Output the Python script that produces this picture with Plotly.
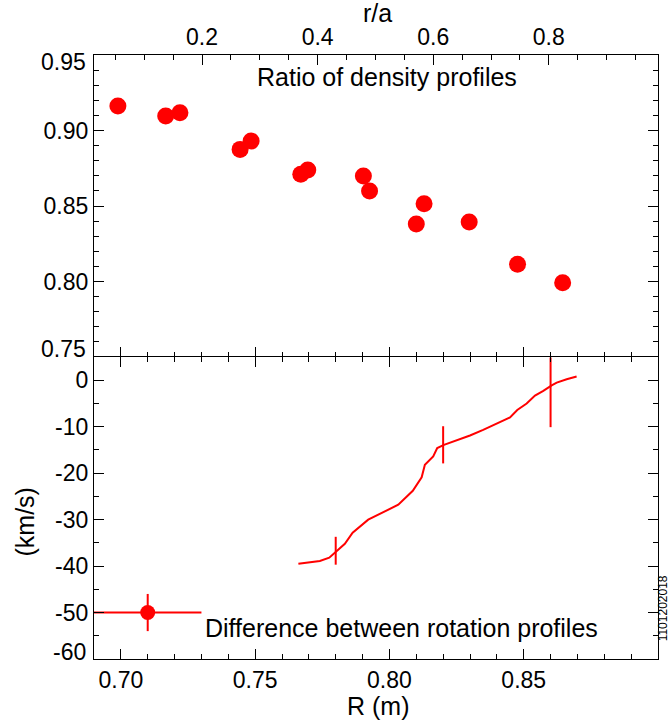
import plotly.graph_objects as go

# top panel: ratio of density profiles vs major radius
r_density = [0.6989, 0.7167, 0.7220, 0.7444, 0.7485, 0.7670, 0.7696,
             0.7903, 0.7926, 0.8100, 0.8129, 0.8297, 0.8477, 0.8645]
ratio = [0.9162, 0.9096, 0.9118, 0.8875, 0.8930, 0.8710, 0.8738,
         0.8699, 0.8599, 0.8381, 0.8515, 0.8394, 0.8114, 0.7992]

# bottom panel: difference of rotation profiles (km/s)
r_rot = [0.7661, 0.7741, 0.7776, 0.7804, 0.7834, 0.7863, 0.7921, 0.8033,
         0.8087, 0.8120, 0.8132, 0.8163, 0.8178, 0.8203, 0.8238, 0.8300,
         0.8349, 0.8412, 0.8449, 0.8476, 0.8511, 0.8542, 0.8573, 0.8604,
         0.8623, 0.8660, 0.8697]
dv_rot = [-39.5, -38.9, -38.2, -36.7, -35.2, -32.8, -30.0, -26.8,
          -23.8, -20.9, -18.2, -16.4, -14.6, -13.9, -13.2, -11.9,
          -10.7, -9.1, -8.0, -6.4, -5.0, -3.3, -2.3, -1.1,
          -0.5, 0.2, 0.8]

# sample error bars on the rotation curve
r_err = [0.78, 0.82, 0.86]
dv_err = [-36.7, -13.9, -1.1]
err_plus = [3, 4, 6]
err_minus = [3, 4, 9]

# legend symbol
leg_r, leg_v, leg_dr, leg_dv = [0.71], [-50], 0.02, 4

ra_ticks = [0.2, 0.4, 0.6, 0.8]
ratio_ticks = [0.75, 0.80, 0.85, 0.90, 0.95]
dv_ticks = [-60, -50, -40, -30, -20, -10, 0]

RED = "#ff0000"
FONT = "Liberation Sans, Arial, sans-serif"
TICK_SIZE = 23
TEXT_SIZE = 25

fig = go.Figure()

fig.add_trace(go.Scatter(x=r_density, y=ratio, mode="markers",
                         marker=dict(size=17, color=RED),
                         xaxis="x", yaxis="y", showlegend=False))

fig.add_trace(go.Scatter(x=r_rot, y=dv_rot, mode="lines",
                         line=dict(color=RED, width=2),
                         xaxis="x2", yaxis="y2", showlegend=False))

fig.add_trace(go.Scatter(x=r_err, y=dv_err, mode="markers",
                         marker=dict(size=1, color="rgba(0,0,0,0)"),
                         error_y=dict(type="data", symmetric=False, array=err_plus,
                                      arrayminus=err_minus, color=RED, thickness=2, width=0),
                         xaxis="x2", yaxis="y2", showlegend=False))

fig.add_trace(go.Scatter(x=leg_r, y=leg_v, mode="markers",
                         marker=dict(size=15, color=RED),
                         error_x=dict(type="constant", value=leg_dr, color=RED, thickness=2, width=0),
                         error_y=dict(type="constant", value=leg_dv, color=RED, thickness=2, width=0),
                         xaxis="x2", yaxis="y2", showlegend=False))

# empty trace so the r/a axis gets drawn
fig.add_trace(go.Scatter(x=[None], y=[None], xaxis="x3", yaxis="y", showlegend=False))

ax = dict(showgrid=False, zeroline=False, showline=True, linecolor="black", linewidth=1.2,
          ticks="inside", ticklen=10, tickwidth=1.2, tickcolor="black", automargin=False,
          tickfont=dict(size=TICK_SIZE, color="black", family=FONT))

# endpoint labels are drawn separately (shifted inside the panel, as in the original)
ratio_text = [f"{v:.2f}" if v not in (0.75, 0.95) else "" for v in ratio_ticks]
dv_text = [str(v) if v != -60 else "" for v in dv_ticks]

fig.update_layout(
    width=670, height=725,
    margin=dict(l=94, r=12, t=55, b=66),
    plot_bgcolor="white", paper_bgcolor="white",
    font=dict(family=FONT, color="black"),
    xaxis=dict(ax, domain=[0, 1], anchor="y", range=[0.69, 0.90], tick0=0.70, dtick=0.05,
               showticklabels=False, mirror=False, showline=False,
               minor=dict(ticks="inside", ticklen=5, dtick=0.01, tickcolor="black")),
    yaxis=dict(ax, domain=[0.5, 1], anchor="x", range=[0.75, 0.95],
               tickvals=ratio_ticks, ticktext=ratio_text, mirror="ticks",
               minor=dict(ticks="inside", ticklen=5, dtick=0.01, tickcolor="black")),
    xaxis2=dict(ax, domain=[0, 1], anchor="y2", range=[0.69, 0.90], tick0=0.70, dtick=0.05,
                tickformat=".2f", mirror="ticks",
                minor=dict(ticks="inside", ticklen=5, dtick=0.01, tickcolor="black")),
    yaxis2=dict(ax, domain=[0, 0.5], anchor="x2", range=[-60, 5],
                tickvals=dv_ticks, ticktext=dv_text, mirror="ticks",
                minor=dict(ticks="inside", ticklen=5, dtick=5, tickcolor="black")),
    xaxis3=dict(ax, overlaying="x", side="top", anchor="y", range=[0.013, 0.989],
                tickvals=ra_ticks, tickformat=".1f",
                minor=dict(ticks="inside", ticklen=5, dtick=0.05, tick0=0, tickcolor="black")),
)

tick_font = dict(size=TICK_SIZE, color="black", family=FONT)
for val, shift in [(0.95, -7), (0.75, 8)]:
    fig.add_annotation(x=0, xref="paper", y=val, yref="y", text=f"{val:.2f}",
                       xanchor="right", yanchor="middle", xshift=-6, yshift=shift,
                       showarrow=False, font=tick_font)
fig.add_annotation(x=0, xref="paper", y=-60, yref="y2", text="-60",
                   xanchor="right", yanchor="middle", xshift=-6, yshift=7,
                   showarrow=False, font=tick_font)

text_font = dict(size=TEXT_SIZE, color="black", family=FONT)
titles = [("r/a", 0.503, 1.069, 0), ("R (m)", 0.5027, -0.077, 0), ("(km/s)", -0.123, 0.227, -90)]
for txt, px, py, ang in titles:
    fig.add_annotation(x=px, y=py, xref="paper", yref="paper", text=txt, textangle=ang,
                       xanchor="center", yanchor="middle", showarrow=False, font=text_font)

fig.add_annotation(x=0.7991, y=0.9354, xref="x", yref="y", text="Ratio of density profiles",
                   xanchor="center", yanchor="middle", showarrow=False, font=text_font)
fig.add_annotation(x=0.7306, y=-53.4, xref="x2", yref="y2", xanchor="left", yanchor="middle",
                   text="Difference between rotation profiles",
                   showarrow=False, font=text_font)
fig.add_annotation(x=1.009, y=0.084, xref="paper", yref="paper", text="1101202018",
                   textangle=-90, xanchor="center", yanchor="middle", showarrow=False,
                   font=dict(size=12, color="black", family=FONT))

# drop the default page margin so the figure sits at the window corner
fig.write_html("out.html", config={"displayModeBar": False},
               post_script="document.body.style.margin='0';")
